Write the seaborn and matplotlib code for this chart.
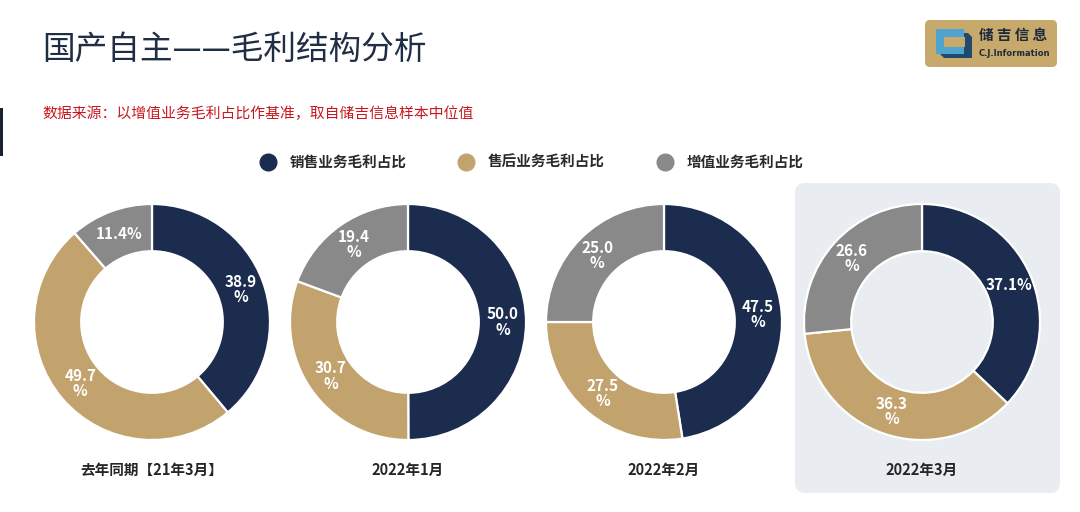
import numpy as np
import pandas as pd
import matplotlib.pyplot as plt
import seaborn as sns
from matplotlib.patches import FancyBboxPatch, Rectangle, Polygon
from matplotlib.lines import Line2D

periods = ["去年同期【21年3月】", "2022年1月", "2022年2月", "2022年3月"]
series = ["销售业务毛利占比", "售后业务毛利占比", "增值业务毛利占比"]
sales = [38.9, 50.0, 47.5, 37.1]
after_sales = [49.7, 30.7, 27.5, 36.3]
value_added = [11.4, 19.4, 25.0, 26.6]
# labels that fit on one line (period index, series index)
one_line = {(0, 2), (3, 0)}

colors = ["#1b2c4e", "#c3a36d", "#898989"]

sns.set_theme(style="white")
plt.rcParams['font.family'] = ['Noto Sans CJK SC', 'DejaVu Sans']

W, H = 1080, 512
fig = plt.figure(figsize=(W / 100, H / 100), dpi=100)
fig.patch.set_facecolor("white")

# background canvas in pixel units
bg = fig.add_axes([0, 0, 1, 1], zorder=0)
bg.set_xlim(0, W)
bg.set_ylim(H, 0)
bg.axis("off")

# highlight panel behind the latest month
bg.add_patch(FancyBboxPatch((795, 183), 265, 310, boxstyle="round,pad=0,rounding_size=10",
                            fc="#e9edf1", ec="none"))
# left edge marker
bg.add_patch(Rectangle((0, 108), 3, 48, fc="#1b2333", ec="none"))

# logo
bg.add_patch(FancyBboxPatch((925, 20), 132, 47, boxstyle="round,pad=0,rounding_size=5",
                            fc="#c8a96c", ec="none"))
bg.add_patch(Polygon([[940, 33], [968, 33], [972, 37], [972, 58], [944, 58], [940, 54]],
                     closed=True, fc="#1f4a6e", ec="none"))
bg.add_patch(Polygon([[936, 29], [964, 29], [964, 54], [936, 54]], closed=True,
                     fc="#4fa3cf", ec="none"))
bg.add_patch(Rectangle((944, 37), 21, 10, fc="#c8a96c", ec="none"))
bg.text(979, 35, "储 吉 信 息", fontsize=10.5, fontweight="bold", color="#1e2a3a", va="center", ha="left")
bg.text(979, 54, "C.J.Information", fontsize=6.0, fontweight="bold", color="#1e2a3a",
        va="center", ha="left", family=["DejaVu Sans"])

# titles
fig.text(42 / W, 1 - 50 / H, "国产自主——毛利结构分析", fontsize=23.5, color="#1f2d45",
         va="center", ha="left")
fig.text(42 / W, 1 - 114 / H, "数据来源：以增值业务毛利占比作基准，取自储吉信息样本中位值",
         fontsize=10.7, color="#c8161d", va="center", ha="left")

# legend
handles = [Line2D([], [], marker="o", ls="none", markersize=12, mfc=c, mec=c) for c in colors]
fig.legend(handles, series, loc="center", bbox_to_anchor=(532 / W, 1 - 162 / H), ncol=3,
           frameon=False, prop={"size": 10.5, "weight": "bold"}, labelcolor="#2a2a2a",
           handlelength=1.0, handletextpad=1.0, columnspacing=3.6)

centers_x = [152, 408, 664, 922]
cy = 322
R = 118
half = 122

df = pd.DataFrame({"period": periods, series[0]: sales, series[1]: after_sales,
                   series[2]: value_added})

for i, row in df.iterrows():
    cx = centers_x[i]
    ax = fig.add_axes([(cx - half) / W, (H - cy - half) / H, 2 * half / W, 2 * half / H], zorder=2)
    vals = [row[s] for s in series]
    wedges, texts, autotexts = ax.pie(vals, colors=colors, startangle=90, counterclock=False,
                                      radius=1.0, autopct=lambda p: "", pctdistance=0.8,
                                      wedgeprops=dict(width=0.4, edgecolor="white", linewidth=1.6))
    for j, t in enumerate(autotexts):
        v = vals[j]
        label = f"{v:.1f}%" if (i, j) in one_line else f"{v:.1f}\n%"
        t.set_text(label)
        t.set_color("white")
        t.set_fontweight("bold")
        t.set_fontsize(11)
        t.set_linespacing(0.95)
    ax.set_xlim(-half / R, half / R)
    ax.set_ylim(-half / R, half / R)
    ax.set_aspect("equal")
    ax.patch.set_alpha(0)
    fig.text(cx / W, 1 - 470 / H, row["period"], fontsize=10.5, fontweight="bold",
             color="#262626", ha="center", va="center")

fig.savefig("out.png", dpi=100)
